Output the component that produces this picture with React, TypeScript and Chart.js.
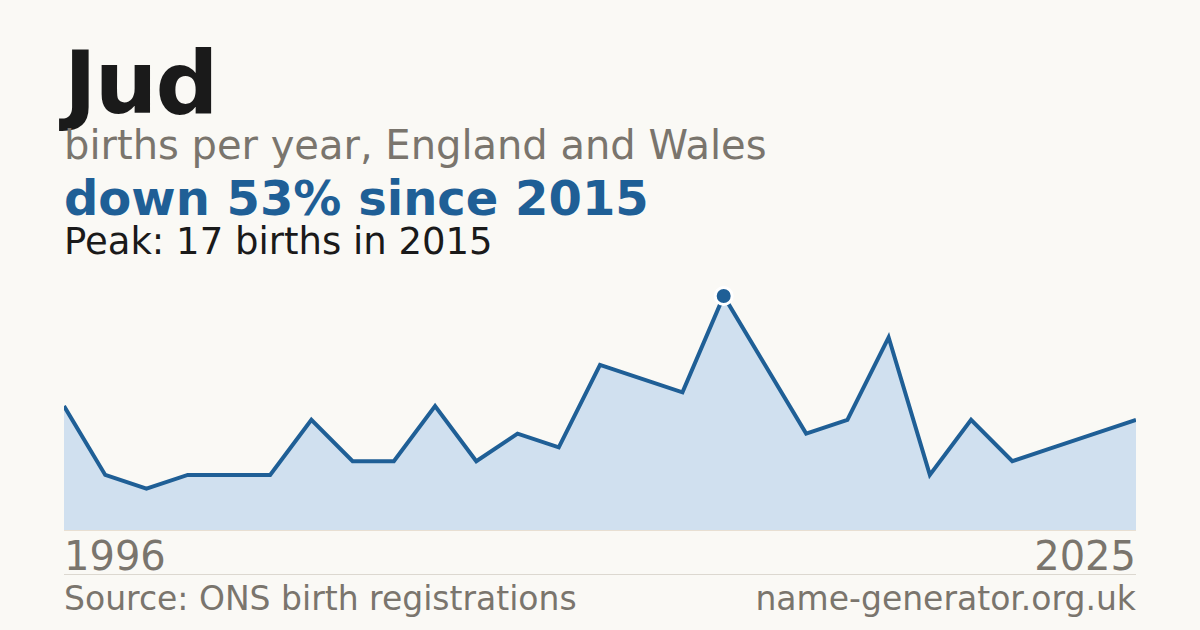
import { useEffect, useRef } from "react";
import { Chart, registerables } from "chart.js";

Chart.register(...registerables);

// years with a recorded count (some early years missing)
const years = [
  1996, 1997, 1998, 2000, 2001, 2002, 2003, 2005, 2006, 2007, 2008, 2009, 2011,
  2012, 2013, 2014, 2015, 2016, 2017, 2018, 2019, 2020, 2021, 2022, 2023, 2024, 2025,
];
const births = [9, 4, 3, 4, 4, 4, 8, 5, 5, 9, 5, 7, 6, 12, 11, 10, 17, 12, 7, 8, 14, 4, 8, 5, 6, 7, 8];

const BLUE = "#1f5f96";
const GREY = "#7a756d";
const FONT = "'DejaVu Sans', sans-serif";

export default function App() {
  const canvasRef = useRef<HTMLCanvasElement | null>(null);

  const peak = Math.max(...births);
  const peakIdx = births.indexOf(peak);

  useEffect(() => {
    document.body.style.margin = "0";
    if (!canvasRef.current) return;

    const chart = new Chart(canvasRef.current, {
      type: "line",
      data: {
        labels: years.map(String),
        datasets: [
          {
            data: births,
            borderColor: BLUE,
            borderWidth: 4,
            backgroundColor: "#d0e0ef",
            fill: "origin",
            tension: 0,
            clip: false,
            pointRadius: births.map((_, i) => (i === peakIdx ? 8.5 : 0)),
            pointBackgroundColor: BLUE,
            pointBorderColor: "#ffffff",
            pointBorderWidth: 3,
          },
        ],
      },
      options: {
        animation: false,
        responsive: false,
        maintainAspectRatio: false,
        layout: { padding: { top: 14, left: 0, right: 0, bottom: 0 } },
        plugins: { legend: { display: false }, tooltip: { enabled: false } },
        scales: {
          x: { display: false, offset: false },
          y: { display: false, min: 0, max: peak },
        },
      },
    });

    return () => {
      chart.destroy();
    };
  }, []);

  const text = (top: number, size: number, color: string, weight = 400) => ({
    position: "absolute" as const,
    top,
    left: 64,
    fontFamily: FONT,
    fontSize: size,
    fontWeight: weight,
    lineHeight: 1,
    color,
    whiteSpace: "nowrap" as const,
  });

  return (
    <div style={{ position: "relative", width: 1200, height: 630, background: "#faf9f5", overflow: "hidden" }}>
      <div style={{ ...text(38.6, 88, "#1a1a1a", 700), letterSpacing: -2 }}>Jud</div>
      <div style={text(125.2, 40, GREY)}>births per year, England and Wales</div>
      <div style={text(174.4, 48, BLUE, 700)}>down 53% since 2015</div>
      <div style={text(222.7, 37, "#1a1a1a")}>Peak: {peak} births in {years[peakIdx]}</div>

      <canvas
        ref={canvasRef}
        width={1072}
        height={248}
        style={{ position: "absolute", left: 64, top: 282, width: 1072, height: 248 }}
      />
      <div style={{ position: "absolute", left: 64, top: 530, width: 1072, height: 1, background: "#e8dfd2" }} />

      <div style={text(535.7, 40, GREY)}>{years[0]}</div>
      <div style={{ ...text(535.7, 40, GREY), left: undefined, right: 64 }}>{years[years.length - 1]}</div>
      <div style={{ position: "absolute", left: 64, top: 574, width: 1072, height: 1, background: "#dcd8d0" }} />
      <div style={text(581.6, 33, GREY)}>Source: ONS birth registrations</div>
      <div style={{ ...text(581.6, 33, GREY), left: undefined, right: 64 }}>name-generator.org.uk</div>
    </div>
  );
}
